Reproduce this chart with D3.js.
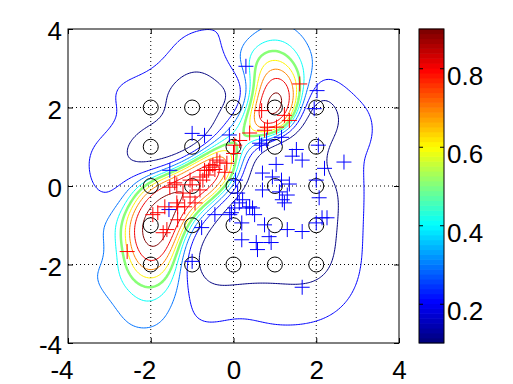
<!DOCTYPE html>
<html lang="en">
<head>
<meta charset="UTF-8">
<title>Class probability contours</title>
<script src="https://d3js.org/d3.v7.min.js"></script>
<style>
  body, html { margin: 0; padding: 0; overflow: hidden; background: #fff; }
  text { font-family: "Liberation Sans", Arial, Helvetica, sans-serif; font-size: 26px; fill: #000; }
</style>
</head>
<body>
<svg id="chart" width="513" height="384"></svg>
<script>
// ---- data ----
const xTicks = [-4, -2, 0, 2, 4];
const yTicks = [-4, -2, 0, 2, 4];
const cbTicks = [0.2, 0.4, 0.6, 0.8];
const levels = [0.1, 0.2, 0.3, 0.4, 0.5, 0.6, 0.7, 0.8, 0.9];
const cRange = [0.1, 0.9];

// basis centres drawn as circles
const centreX = [-2, -1, 0, 1, 2];
const centreY = [-2, -1, 0, 1, 2];

// probability at integer points
const probeX = [-4, -3, -2, -1, 0, 1, 2, 3, 4];
const probeY = [4, 3, 2, 1, 0, -1, -2, -3, -4];
const probeP = [
  [0.25, 0.24, 0.23, 0.205, 0.22, 0.32, 0.25, 0.25, 0.25],
  [0.245, 0.23, 0.205, 0.11, 0.21, 0.66, 0.27, 0.24, 0.25],
  [0.235, 0.21, 0.12, 0.05, 0.20, 0.96, 0.09, 0.18, 0.25],
  [0.23, 0.16, 0.05, 0.09, 0.55, 0.07, 0.06, 0.18, 0.25],
  [0.24, 0.185, 0.62, 0.90, 0.25, 0.05, 0.06, 0.18, 0.25],
  [0.27, 0.34, 0.95, 0.38, 0.05, 0.03, 0.05, 0.18, 0.25],
  [0.27, 0.34, 0.78, 0.14, 0.06, 0.06, 0.07, 0.19, 0.25],
  [0.26, 0.29, 0.40, 0.19, 0.16, 0.15, 0.16, 0.22, 0.25],
  [0.25, 0.26, 0.26, 0.24, 0.23, 0.23, 0.23, 0.24, 0.25]
];
// extra readings between the integer points [x, y, p]
const extraProbes = [
  [-1.5, -0.5, 0.93], [-2, -1.5, 0.92], [-0.5, 0.5, 0.86], [0.5, 1.5, 0.68],
  [1, 2.5, 0.89], [1, 1.5, 0.72], [0.5, 2, 0.5], [1.5, 2, 0.45],
  [-2.5, -1.5, 0.64], [-1.5, -1.5, 0.72], [-2.5, -0.5, 0.5], [-1.5, 0.5, 0.3],
  [-0.5, 1.5, 0.1], [0.5, 2.5, 0.5], [1.5, 2.5, 0.62], [1.5, 1.5, 0.15],
  [0.5, 0.5, 0.08], [-0.5, -0.5, 0.3], [0.5, -0.5, 0.04], [-0.5, -1.5, 0.07],
  [-1.5, -2.5, 0.4], [-2.5, -2.5, 0.45], [-2, -2.5, 0.5], [-1.5, -3, 0.3],
  [1, 3.5, 0.5], [0.5, 3, 0.52], [1.5, 3, 0.52], [0.5, 3.5, 0.38], [1.5, 3.5, 0.38],
  [-1, 2.5, 0.07], [-1.5, 2.5, 0.1], [-0.5, 2.5, 0.08], [-1.5, 1.5, 0.07], [-0.5, 2, 0.08],
  [-1.5, 3.5, 0.2], [-2.5, 1.5, 0.15], [2.5, 2.5, 0.18]
];
const backgroundP = 0.25;

const redPts = [
  [1.6, 2.6], [0.68, 1.92], [1.23, 1.8], [1.35, 1.67], [1.04, 1.5], [0.82, 1.5], [0.75, 1.42],
  [0.15, 1.16], [0.03, 1.04], [0.39, 1.35], [-0.57, 0.48], [-0.4, 0.66], [-0.65, 0.28],
  [-0.16, 0.58], [-0.5, 0.53], [-0.33, 0.61], [-0.74, 0.15], [-0.21, 0.35], [0.0, 0.83],
  [-0.6, 0.4], [-0.45, 0.42], [-0.7, 0.4], [-1.42, 0.08], [-1.0, 0.03], [-0.81, 0.23],
  [-1.05, 0.15], [-1.22, -0.18], [-0.93, -0.43], [-1.35, -0.53], [-1.37, 0.03], [-0.81, -0.1],
  [-1.05, -0.28], [-1.18, -0.53], [-1.37, -0.43], [-1.66, -0.53], [-1.83, -0.68], [-1.95, -0.73],
  [-1.7, -1.19], [-1.61, -1.11], [-1.35, -0.86], [-2.57, -1.67], [-1.54, -0.03]
];
const bluePts = [
  [0.3, 3.05], [2.02, 2.43], [1.95, 1.97], [-1.0, 1.34], [-0.7, 1.29], [-0.1, 1.3], [-1.54, 0.4],
  [0.05, 0.15], [0.63, 1.09], [0.68, 1.04], [0.8, 1.17], [1.16, 1.24], [1.52, 0.93], [1.42, 0.76],
  [1.66, 0.66], [2.05, 1.04], [2.2, 0.45], [2.67, 0.61], [1.03, 0.55], [0.94, 0.23], [0.7, 0.33],
  [1.16, 0.15], [1.35, 0.05], [2.0, 0.15], [0.7, -0.1], [1.11, -0.15], [1.18, -0.35], [1.3, -0.23],
  [1.23, -0.43], [2.07, -0.3], [0.39, -0.53], [0.22, -0.35], [0.14, -0.43], [0.46, -0.56],
  [0.03, -0.56], [0.31, -0.56], [0.51, -0.73], [0.2, -0.94], [-0.09, -0.73], [-0.45, -0.73],
  [-0.77, -1.06], [0.75, -0.99], [0.2, -1.37], [0.55, -1.44], [0.58, -1.62], [0.91, -1.44],
  [0.86, -1.29], [1.3, -1.11], [1.66, -1.16], [2.0, -0.94], [2.14, -0.81], [2.26, -0.81],
  [-1.0, -1.92], [1.66, -2.58], [-1.56, -0.6], [0.1, -0.18], [-0.05, -0.68]
];

// ---- layout ----
const svg = d3.select("#chart");
const pL = 68, pR = 399, pT = 29, pB = 343;
const x = d3.scaleLinear().domain([-4, 4]).range([pL, pR]);
const y = d3.scaleLinear().domain([-4, 4]).range([pB, pT]);
const cy = d3.scaleLinear().domain(cRange).range([pB, pT]);

svg.append("rect").attr("width", 513).attr("height", 384).attr("fill", "#fff");

function jet(v) {
  const idx = Math.max(0, Math.min(63, Math.floor((v - cRange[0]) / (cRange[1] - cRange[0]) * 64)));
  const t = idx / 63;
  const f = c => Math.round(255 * Math.max(0, Math.min(1, c)));
  return `rgb(${f(1.5 - Math.abs(4 * t - 3))},${f(1.5 - Math.abs(4 * t - 2))},${f(1.5 - Math.abs(4 * t - 1))})`;
}

// ---- smooth surface through the readings (regularised gaussian rbf, logit space) ----
const sigma = 0.65, lambda = 0.06;
const logit = p => Math.log(p / (1 - p));
const samples = [];
probeY.forEach((py, r) => probeX.forEach((px, c) => samples.push([px, py, probeP[r][c]])));
extraProbes.forEach(s => samples.push(s));
const kern = (dx, dy) => Math.exp(-(dx * dx + dy * dy) / (2 * sigma * sigma));
const M = samples.map((a, i) => samples.map((b, j) => kern(a[0] - b[0], a[1] - b[1]) + (i === j ? lambda : 0)));
const rhs = samples.map(s => logit(s[2]) - logit(backgroundP));
const wts = solve(M, rhs);

function solve(A, b) {
  const m = A.length;
  const a = A.map((row, i) => row.concat([b[i]]));
  for (let c = 0; c < m; c++) {
    let piv = c;
    for (let r = c + 1; r < m; r++) if (Math.abs(a[r][c]) > Math.abs(a[piv][c])) piv = r;
    [a[c], a[piv]] = [a[piv], a[c]];
    for (let r = c + 1; r < m; r++) {
      const f = a[r][c] / a[c][c];
      for (let k = c; k <= m; k++) a[r][k] -= f * a[c][k];
    }
  }
  const out = new Array(m).fill(0);
  for (let r = m - 1; r >= 0; r--) {
    let s = a[r][m];
    for (let k = r + 1; k < m; k++) s -= a[r][k] * out[k];
    out[r] = s / a[r][r];
  }
  return out;
}

const g0 = -4.3, step = 0.04, ng = Math.round(8.6 / step) + 1;
const values = new Float64Array(ng * ng);
for (let j = 0; j < ng; j++) {
  const gy = g0 + j * step;
  for (let i = 0; i < ng; i++) {
    const gx = g0 + i * step;
    let f = logit(backgroundP);
    for (let k = 0; k < samples.length; k++) f += wts[k] * kern(gx - samples[k][0], gy - samples[k][1]);
    values[j * ng + i] = 1 / (1 + Math.exp(-f));
  }
}

svg.append("clipPath").attr("id", "clip")
  .append("rect").attr("x", pL).attr("y", pT).attr("width", pR - pL).attr("height", pB - pT);

const proj = d3.geoTransform({
  point(px, py) { this.stream.point(x(g0 + (px - 0.5) * step), y(g0 + (py - 0.5) * step)); }
});
const path = d3.geoPath(proj);
const contours = d3.contours().size([ng, ng]).thresholds(levels)(values);

// grid (dotted)
const grid = svg.append("g").attr("stroke", "#000").attr("stroke-dasharray", "1,3");
grid.selectAll(".gx").data(xTicks.slice(1, -1)).join("line")
  .attr("x1", d => x(d)).attr("x2", d => x(d)).attr("y1", pT).attr("y2", pB);
grid.selectAll(".gy").data(yTicks.slice(1, -1)).join("line")
  .attr("y1", d => y(d)).attr("y2", d => y(d)).attr("x1", pL).attr("x2", pR);

svg.append("g").attr("clip-path", "url(#clip)")
  .selectAll("path").data(contours).join("path")
  .attr("d", path)
  .attr("fill", "none")
  .attr("stroke", d => jet(d.value))
  .attr("stroke-width", d => Math.abs(d.value - 0.5) < 1e-9 ? 2.5 : 1);

// centres
const centres = [];
centreY.forEach(cyv => centreX.forEach(cxv => centres.push([cxv, cyv])));
svg.append("g").selectAll("circle").data(centres).join("circle")
  .attr("cx", d => x(d[0])).attr("cy", d => y(d[1])).attr("r", 7.5)
  .attr("fill", "none").attr("stroke", "#000");

// markers
const plus = "M-7.5,0H7.5M0,-7.5V7.5";
svg.append("g").selectAll("path").data(bluePts).join("path")
  .attr("d", plus).attr("transform", d => `translate(${x(d[0])},${y(d[1])})`)
  .attr("stroke", "#0000ff").attr("fill", "none");
svg.append("g").selectAll("path").data(redPts).join("path")
  .attr("d", plus).attr("transform", d => `translate(${x(d[0])},${y(d[1])})`)
  .attr("stroke", "#ff0000").attr("fill", "none");

// box + inward ticks on all sides
svg.append("rect").attr("x", pL).attr("y", pT).attr("width", pR - pL).attr("height", pB - pT)
  .attr("fill", "none").attr("stroke", "#000");

const axB = svg.append("g").attr("transform", `translate(0,${pB})`)
  .call(d3.axisBottom(x).tickValues(xTicks).tickSize(-5).tickPadding(18).tickFormat(d => String(d)));
const axL = svg.append("g").attr("transform", `translate(${pL},0)`)
  .call(d3.axisLeft(y).tickValues(yTicks).tickSize(-5).tickPadding(6).tickFormat(d => String(d)));
svg.append("g").attr("transform", `translate(0,${pT})`)
  .call(d3.axisTop(x).tickValues(xTicks).tickSize(-5).tickFormat(""));
svg.append("g").attr("transform", `translate(${pR},0)`)
  .call(d3.axisRight(y).tickValues(yTicks).tickSize(-5).tickFormat(""));
svg.selectAll(".domain").remove();
axB.selectAll("text").attr("dx", d => d < 0 ? "-0.25em" : 0);
axL.selectAll("text").attr("dy", "0.42em");

// ---- colorbar ----
const cbLeft = 419, cbRight = 444;
const cbStep = (cRange[1] - cRange[0]) / 64;
const cbSteps = d3.range(64).map(i => cRange[0] + i * cbStep);
svg.append("g").selectAll("rect").data(cbSteps).join("rect")
  .attr("x", cbLeft).attr("width", cbRight - cbLeft)
  .attr("y", d => cy(d + cbStep) - 0.3).attr("height", d => cy(d) - cy(d + cbStep) + 0.6)
  .attr("fill", d => jet(d + cbStep / 2));
svg.append("rect").attr("x", cbLeft).attr("y", pT).attr("width", cbRight - cbLeft).attr("height", pB - pT)
  .attr("fill", "none").attr("stroke", "#000");
const cbAx = svg.append("g").attr("transform", `translate(${cbRight},0)`)
  .call(d3.axisRight(cy).tickValues(cbTicks).tickSize(-4).tickPadding(3).tickFormat(d3.format(".1f")));
svg.append("g").attr("transform", `translate(${cbLeft},0)`)
  .call(d3.axisLeft(cy).tickValues(cbTicks).tickSize(-4).tickFormat(""));
svg.selectAll(".domain").remove();
cbAx.selectAll("text").attr("dy", "0.62em");
</script>
</body>
</html>
